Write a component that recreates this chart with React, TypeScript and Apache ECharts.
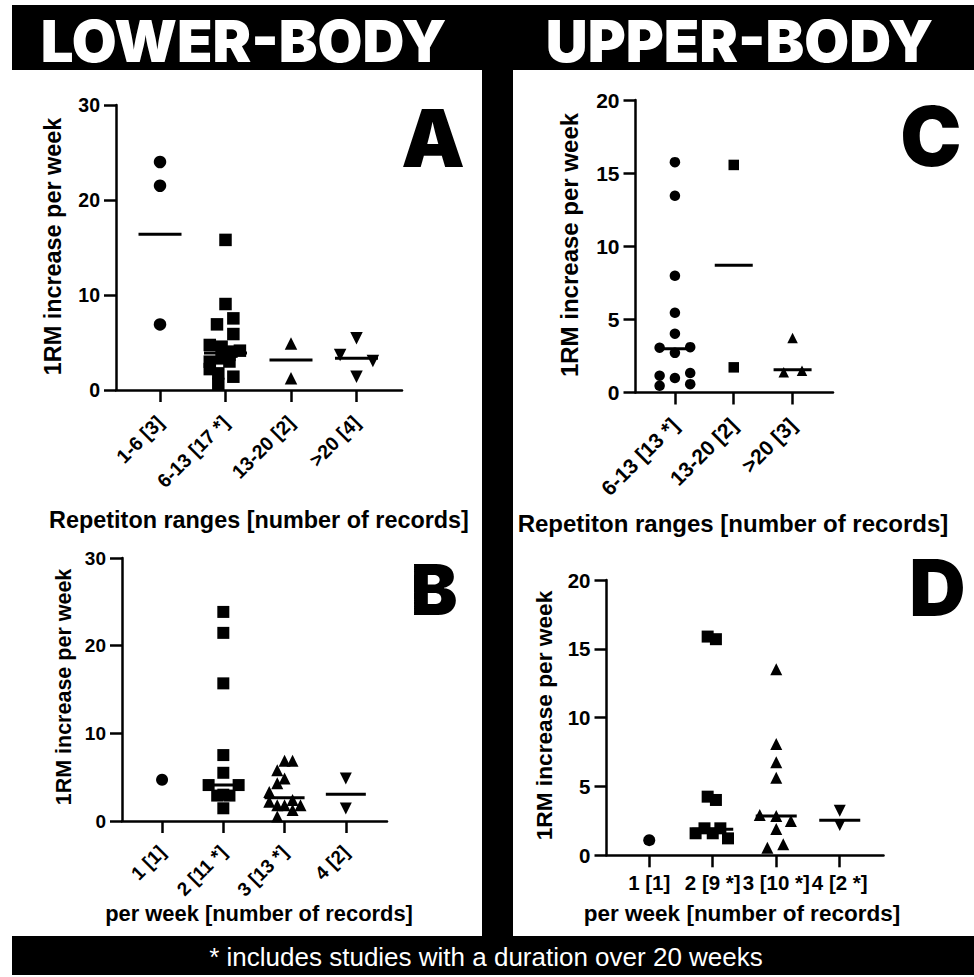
import React, { useEffect, useRef } from "react";
import * as echarts from "echarts";

// ---------- DATA ----------
const A_CATS = ["1-6 [3]", "6-13 [17 *]", "13-20 [2]", ">20 [4]"];
const A_G1 = [24.0, 21.5, 6.9];
const A_G2 = [15.8, 9.05, 7.54, 6.91, 5.89, 4.74, 4.56, 4.14, 4.04, 3.7, 3.33, 3.0, 2.98, 2.2, 1.75, 1.4, 0.63];
const A_G3 = [4.9, 1.25];
const A_G4 = [5.44, 3.68, 3.05, 1.4];
const A_MEDIANS = [16.4, 3.9, 3.15, 3.33];
const A_JITTER = [
  [0, 0, 0],
  [0, 0, 0.12, -0.13, 0.12, -0.24, -0.06, 0.22, 0.09, 0.06, -0.06, 0.06, -0.24, -0.24, -0.11, 0.12, -0.11],
  [0, 0],
  [0, -0.25, 0.25, 0],
];

const B_CATS = ["1 [1]", "2 [11 *]", "3 [13 *]", "4 [2]"];
const B_G1 = [4.7];
const B_G2 = [23.85, 21.46, 15.7, 7.52, 5.5, 4.1, 4.1, 3.0, 2.9, 2.9, 1.45];
const B_G3 = [6.87, 6.87, 5.8, 4.86, 4.3, 3.3, 2.2, 1.8, 1.8, 2.4, 1.8, 1.25, 0.5];
const B_G4 = [4.86, 1.44];
const B_MEDIANS = [null, 4.1, 2.66, 3.04];
const B_JITTER = [
  [0],
  [0, 0, 0, 0, 0, -0.24, 0.25, 0, -0.1, 0.1, 0],
  [0, 0.13, -0.12, 0, -0.12, -0.25, -0.25, -0.12, 0, 0.13, 0.26, 0.13, -0.12],
  [0, 0],
];

const C_CATS = ["6-13 [13 *]", "13-20 [2]", ">20 [3]"];
const C_G1 = [15.75, 13.45, 7.98, 5.45, 4.02, 3.06, 3.1, 2.71, 1.15, 0.99, 1.33, 0.46, 0.57];
const C_G2 = [15.56, 1.72];
const C_G3 = [3.72, 1.38, 1.49];
const C_MEDIANS = [3.0, 8.7, 1.56];
const C_JITTER = [
  [0, 0, 0, 0, 0, -0.26, 0.26, 0, -0.26, 0, 0.26, -0.26, 0.26],
  [0, 0],
  [0, -0.15, 0.16],
];

const D_CATS = ["1 [1]", "2 [9 *]", "3 [10 *]", "4 [2 *]"];
const D_G1 = [1.1];
const D_G2 = [15.89, 15.7, 4.26, 4.02, 1.6, 1.96, 1.6, 1.96, 1.23];
const D_G3 = [13.52, 8.09, 6.76, 5.64, 2.93, 2.86, 2.49, 1.91, 0.55, 0.8];
const D_G4 = [3.24, 2.2];
const D_MEDIANS = [null, 1.9, 2.85, 2.55];
const D_JITTER = [
  [0],
  [-0.08, 0.05, -0.08, 0.05, -0.27, -0.13, 0, 0.12, 0.24],
  [0, 0, 0, 0, -0.26, 0, 0.23, 0, -0.14, 0.11],
  [0, 0],
];

const Y_TITLE = "1RM increase per week";
const X_TITLE_REPS = "Repetiton ranges [number of records]";
const X_TITLE_FREQ = "per week [number of records]";
const HEADER_LEFT = "LOWER-BODY";
const HEADER_RIGHT = "UPPER-BODY";
const FOOTNOTE = "* includes studies with a duration over 20 weeks";

// ---------- STYLE / LAYOUT ----------
const FONT = '"Liberation Sans", Arial, Helvetica, sans-serif';
const HEAVY = 'Inter, "Liberation Sans", Arial, sans-serif';
const SYMBOLS = ["circle", "rect", "triangle", "triangle"];
const SYMBOL_ROT = [0, 0, 0, 180];

const PANELS = [
  {
    grid: { left: 116, top: 105, width: 286, height: 285 },
    xMin: 0.328, xMax: 4.695, yMax: 30, yInt: 10,
    cats: A_CATS, groups: [A_G1, A_G2, A_G3, A_G4], jit: A_JITTER, med: A_MEDIANS,
    rotate: 45, tickFont: 19.5, sym: 12.5, lineLen: 43, xMargin: 29,
  },
  {
    grid: { left: 122, top: 558, width: 265, height: 263 },
    xMin: 0.346, xMax: 4.672, yMax: 30, yInt: 10,
    cats: B_CATS, groups: [B_G1, B_G2, B_G3, B_G4], jit: B_JITTER, med: B_MEDIANS,
    rotate: 45, tickFont: 19, sym: 12, lineLen: 40, xMargin: 28,
  },
  {
    grid: { left: 635.5, top: 100, width: 197.5, height: 292.5 },
    xMin: 0.33, xMax: 3.687, yMax: 20, yInt: 5,
    cats: C_CATS, groups: [C_G1, C_G2, C_G3], jit: C_JITTER, med: C_MEDIANS,
    rotate: 45, tickFont: 21, sym: 10.5, lineLen: 38, xMargin: 29,
  },
  {
    grid: { left: 606.5, top: 580, width: 277, height: 275.3 },
    xMin: 0.327, xMax: 4.689, yMax: 20, yInt: 5,
    cats: D_CATS, groups: [D_G1, D_G2, D_G3, D_G4], jit: D_JITTER, med: D_MEDIANS,
    rotate: 0, tickFont: 20.5, sym: 12, lineLen: 41, xMargin: 17,
  },
];

function buildOption() {
  const grids: any[] = [];
  const xAxes: any[] = [];
  const yAxes: any[] = [];
  const series: any[] = [];
  PANELS.forEach((p, pi) => {
    grids.push({ ...p.grid, containLabel: false });
    const ticks = p.cats.map((_, i) => i + 1);
    xAxes.push({
      gridIndex: pi,
      type: "value",
      min: p.xMin,
      max: p.xMax,
      splitLine: { show: false },
      axisLine: { show: true, onZero: false, lineStyle: { color: "#000", width: 2.5 } },
      axisTick: { show: true, inside: false, length: 12, customValues: ticks, lineStyle: { color: "#000", width: 2.5 } },
      axisLabel: {
        show: true,
        customValues: ticks,
        formatter: (v: number) => p.cats[Math.round(v) - 1] ?? "",
        rotate: p.rotate,
        margin: p.xMargin,
        color: "#000",
        fontFamily: FONT,
        fontWeight: "bold",
        fontSize: p.tickFont,
        hideOverlap: false,
      },
    });
    yAxes.push({
      gridIndex: pi,
      type: "value",
      min: 0,
      max: p.yMax,
      interval: p.yInt,
      splitLine: { show: false },
      axisLine: { show: true, onZero: false, lineStyle: { color: "#000", width: 2.5 } },
      axisTick: { show: true, inside: false, length: 12, lineStyle: { color: "#000", width: 2.5 } },
      axisLabel: {
        margin: 16,
        color: "#000",
        fontFamily: FONT,
        fontWeight: "bold",
        fontSize: p.tickFont,
      },
    });
    p.groups.forEach((vals, gi) => {
      series.push({
        type: "scatter",
        xAxisIndex: pi,
        yAxisIndex: pi,
        symbol: SYMBOLS[gi],
        symbolRotate: SYMBOL_ROT[gi],
        symbolSize: p.sym,
        itemStyle: { color: "#000", opacity: 1 },
        silent: true,
        data: vals.map((v, i) => [gi + 1 + p.jit[gi][i], v]),
      });
    });
    series.push({
      type: "scatter",
      xAxisIndex: pi,
      yAxisIndex: pi,
      symbol: "rect",
      symbolSize: [p.lineLen, 3],
      itemStyle: { color: "#000", opacity: 1 },
      silent: true,
      z: 3,
      data: p.med
        .map((m, gi) => (m === null ? null : [gi + 1, m]))
        .filter((d) => d !== null),
    });
  });

  const txt = (text: string, x: number, y: number, size: number, opts: any = {}) => ({
    type: "text",
    x,
    y,
    rotation: opts.rotation || 0,
    z: 10,
    silent: true,
    style: {
      text,
      fill: opts.fill || "#000",
      fontFamily: opts.family || FONT,
      fontWeight: opts.weight || "bold",
      fontSize: size,
      textAlign: "center",
      textVerticalAlign: "middle",
    },
  });

  const graphic: any[] = [
    { type: "rect", shape: { x: 12, y: 5, width: 962, height: 65 }, style: { fill: "#000" }, silent: true },
    { type: "rect", shape: { x: 482, y: 69, width: 31, height: 868 }, style: { fill: "#000" }, silent: true },
    { type: "rect", shape: { x: 12, y: 936, width: 962, height: 39 }, style: { fill: "#000" }, silent: true },
    txt(HEADER_LEFT, 243.5, 41, 58, { fill: "#fff", family: HEAVY, weight: 900 }),
    txt(HEADER_RIGHT, 739.5, 41, 58, { fill: "#fff", family: HEAVY, weight: 900 }),
    txt(FOOTNOTE, 486, 957, 26, { fill: "#fff", weight: "normal" }),
    // panel letters
    txt("A", 433, 137, 80, { family: HEAVY, weight: 900 }),
    txt("B", 434, 589, 70, { family: HEAVY, weight: 900 }),
    txt("C", 931, 136, 82, { family: HEAVY, weight: 900 }),
    txt("D", 937.5, 587, 78, { family: HEAVY, weight: 900 }),
    // axis titles
    txt(Y_TITLE, 53, 246.5, 23.4, { rotation: Math.PI / 2 }),
    txt(X_TITLE_REPS, 259, 520, 23.4),
    txt(Y_TITLE, 63.5, 687, 21.5, { rotation: Math.PI / 2 }),
    txt(X_TITLE_FREQ, 259, 913, 21.9),
    txt(Y_TITLE, 569, 245, 24, { rotation: Math.PI / 2 }),
    txt(X_TITLE_REPS, 733, 523.5, 24),
    txt(Y_TITLE, 544, 715.5, 22.7, { rotation: Math.PI / 2 }),
    txt(X_TITLE_FREQ, 742, 913, 22.5),
  ];

  return {
    animation: false,
    backgroundColor: "#fff",
    grid: grids,
    xAxis: xAxes,
    yAxis: yAxes,
    series,
    graphic,
  };
}

export default function App() {
  const ref = useRef<HTMLDivElement>(null);
  useEffect(() => {
    if (!ref.current) return;
    const chart = echarts.init(ref.current, undefined, { renderer: "svg" });
    chart.setOption(buildOption() as any);
    return () => chart.dispose();
  }, []);
  return (
    <div
      ref={ref}
      style={{ position: "absolute", left: 0, top: 0, width: 974, height: 977 }}
    />
  );
}
